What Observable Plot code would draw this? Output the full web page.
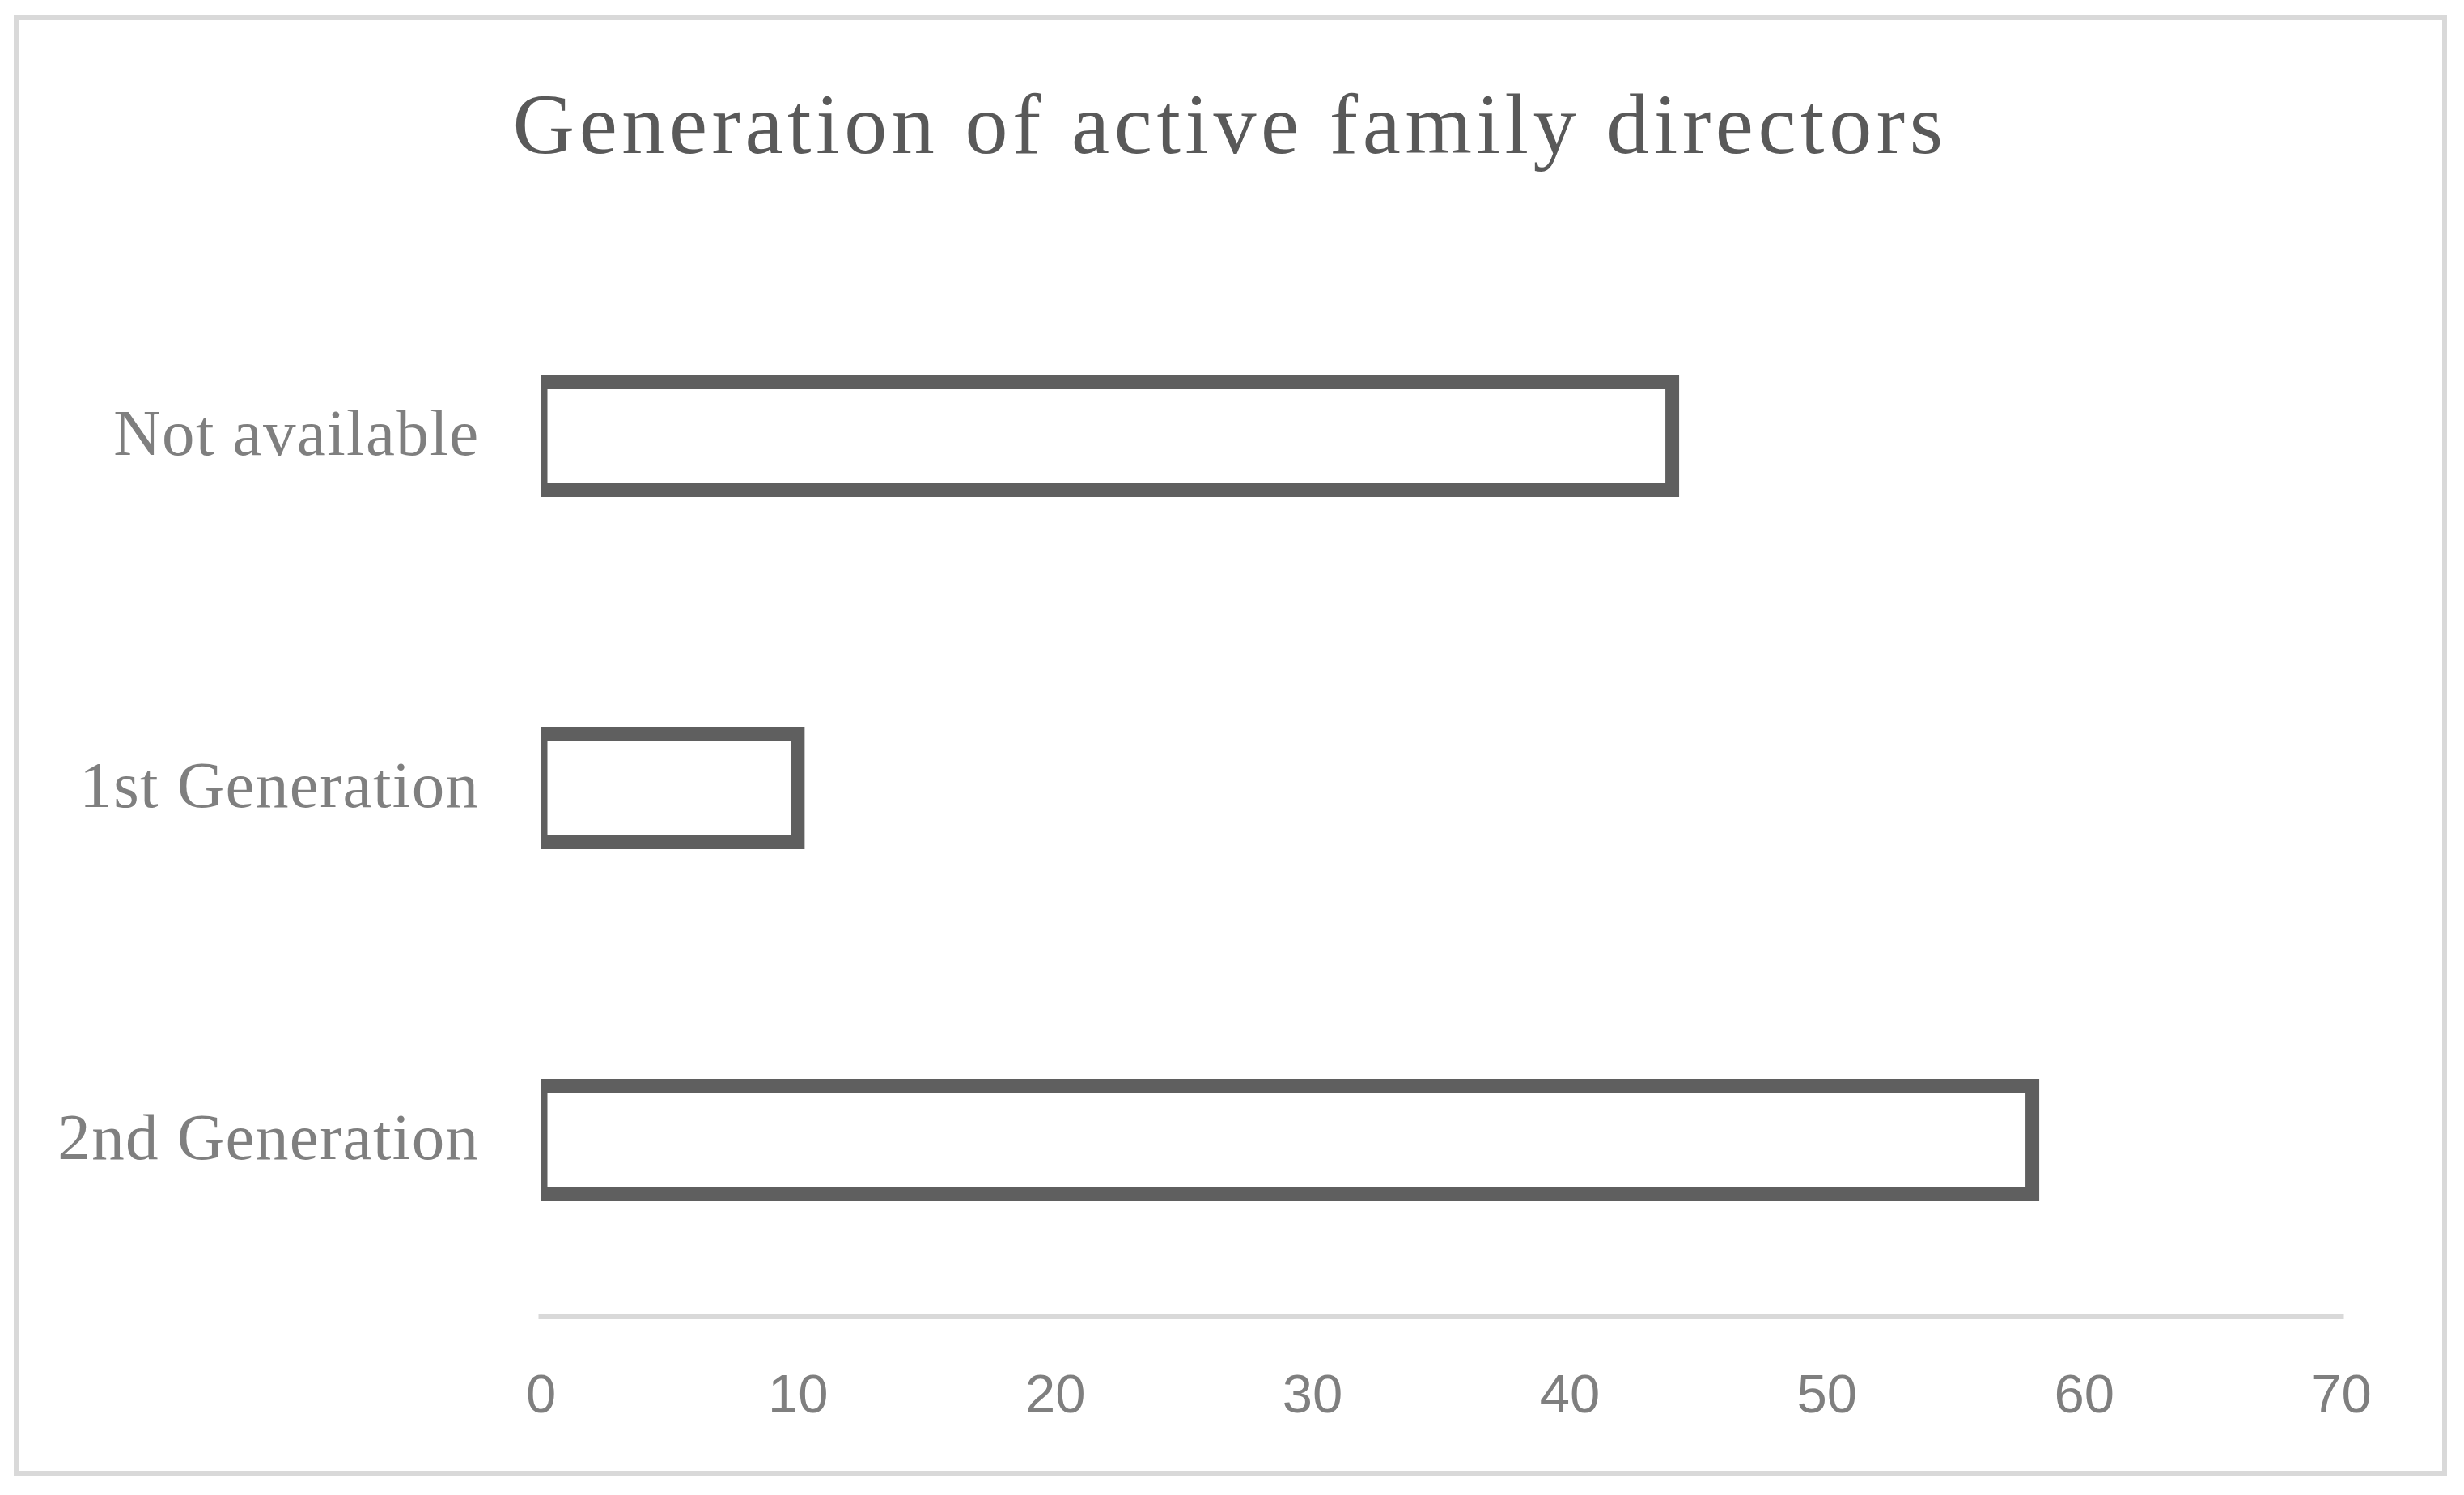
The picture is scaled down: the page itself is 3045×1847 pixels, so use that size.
<!DOCTYPE html>
<html>
<head>
<meta charset="utf-8">
<script src="https://cdn.jsdelivr.net/npm/d3@7"></script>
<script src="https://cdn.jsdelivr.net/npm/@observablehq/plot@0.6"></script>
<style>
  html, body { margin: 0; padding: 0; background: #ffffff; }
  body { width: 3045px; height: 1847px; position: relative; overflow: hidden; }
  #border { position: absolute; left: 17px; top: 19px; width: 3007px; height: 1804px; box-sizing: border-box; border: 6px solid #d9d9d9; }
  #title { position: absolute; left: 0; top: 101px; width: 3040px; text-align: center; font-family: "Liberation Serif", serif; font-size: 106px; line-height: 106px; letter-spacing: 5.6px; color: #595959; white-space: nowrap; }
  #chart { position: absolute; left: 0; top: 0; }
  #chart g[aria-label="y-axis tick label"] { letter-spacing: 1.4px; }
</style>
</head>
<body>
<div id="border"></div>
<div id="title">Generation of active family directors</div>
<div id="chart"></div>
<script>
const categories = ["Not available", "1st Generation", "2nd Generation"];
const values = [44, 10, 58];
const xTicks = [0, 10, 20, 30, 40, 50, 60, 70];

const data = categories.map((c, i) => ({category: c, value: values[i]}));

const plot = Plot.plot({
  width: 3045,
  height: 1847,
  marginLeft: 668,
  marginRight: 152,
  marginTop: 321,
  marginBottom: 221,
  style: {background: "transparent"},
  x: {domain: [0, 70], ticks: xTicks},
  y: {domain: categories, padding: 0},
  marks: [
    Plot.frame({anchor: "bottom", stroke: "#d9d9d9", strokeWidth: 6}),
    Plot.barX(data, {
      x: "value", y: "category",
      fill: "#ffffff", stroke: "#5f5f5f", strokeWidth: 17,
      insetTop: 150.5, insetBottom: 150.5, clip: true
    }),
    Plot.axisX({
      ticks: xTicks, tickSize: 0, tickPadding: 71,
      fontSize: 67, fontFamily: "'Liberation Sans', sans-serif",
      fill: "#7f7f7f", label: null
    }),
    Plot.axisY({
      tickSize: 0, tickPadding: 76,
      fontSize: 81, fontFamily: "'Liberation Serif', serif",
      fill: "#7f7f7f", label: null, dy: -3
    })
  ]
});
document.getElementById("chart").appendChild(plot);
</script>
</body>
</html>
